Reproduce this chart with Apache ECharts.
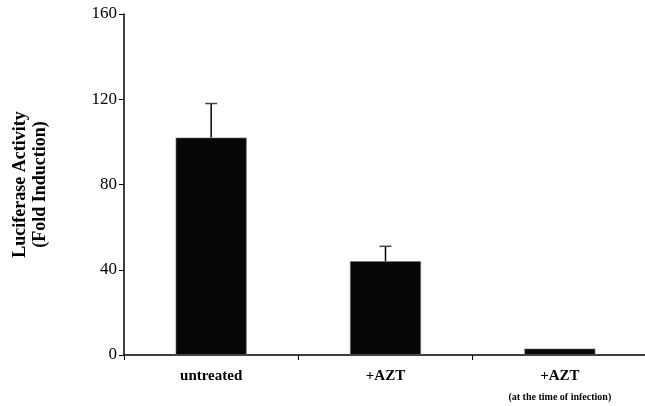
<!DOCTYPE html>
<html>
<head>
<meta charset="utf-8">
<script src="https://cdn.jsdelivr.net/npm/echarts@6/dist/echarts.min.js"></script>
<style>html,body{margin:0;padding:0;background:#fff;}#c{width:645px;height:406px;}</style>
</head>
<body>
<div id="c"></div>
<script>
const categories = ['untreated', '+AZT', '+AZT (at the time of infection)'];
const values = [102, 44, 3];
const errors = [16, 7, 0];
const yTicks = [0, 40, 80, 120, 160];
const yTitle = ['Luciferase Activity', '(Fold Induction)'];

const chart = echarts.init(document.getElementById('c'), null, {renderer: 'canvas'});
const serif = '"Liberation Serif", "Times New Roman", serif';

chart.setOption({
  animation: false,
  backgroundColor: '#fff',
  grid: {left: 124, top: 14, width: 523, height: 341, containLabel: false, outerBoundsMode: 'none'},
  xAxis: {
    type: 'category',
    data: categories,
    axisLine: {lineStyle: {color: '#000', width: 1.5}},
    axisTick: {show: true, length: 5, lineStyle: {color: '#000', width: 1}},
    axisLabel: {
      interval: 0,
      margin: 10,
      color: '#000',
      fontFamily: serif,
      fontWeight: 'bold',
      fontSize: 15,
      lineHeight: 20,
      formatter: function (v) {
        const m = v.match(/^(\S+)\s+(\(.*\))$/);
        if (m) return '{a|' + m[1] + '}\n{b|' + m[2] + '}';
        return '{a|' + v + '}';
      },
      rich: {
        a: {fontFamily: serif, fontWeight: 'bold', fontSize: 15, lineHeight: 22, color: '#000'},
        b: {fontFamily: serif, fontWeight: 'bold', fontSize: 10, lineHeight: 20, color: '#000'}
      }
    },
    splitLine: {show: false}
  },
  yAxis: {
    type: 'value',
    min: yTicks[0],
    max: yTicks[yTicks.length - 1],
    interval: yTicks[1] - yTicks[0],
    name: yTitle.join('\n'),
    nameLocation: 'middle',
    nameRotate: 90,
    nameGap: 74,
    nameTextStyle: {fontFamily: serif, fontWeight: 'bold', fontSize: 18, lineHeight: 20, color: '#000'},
    axisLine: {show: true, lineStyle: {color: '#000', width: 1.5}},
    axisTick: {show: true, length: 5, lineStyle: {color: '#000'}},
    axisLabel: {color: '#000', fontFamily: serif, fontSize: 17, margin: 7},
    splitLine: {show: false}
  },
  series: [
    {
      type: 'bar',
      data: values,
      barWidth: 71,
      itemStyle: {color: '#070707', borderColor: '#777', borderWidth: 0.6}
    },
    {
      type: 'custom',
      data: values.map((v, i) => [i, v, v + errors[i]]),
      z: 5,
      renderItem: function (params, api) {
        const x = api.value(0);
        const lo = api.coord([x, api.value(1)]);
        const hi = api.coord([x, api.value(2)]);
        if (api.value(2) <= api.value(1)) return null;
        return {
          type: 'group',
          children: [
            {type: 'line', shape: {x1: lo[0], y1: lo[1], x2: hi[0], y2: hi[1]}, style: {stroke: '#000', lineWidth: 1.5}},
            {type: 'line', shape: {x1: hi[0] - 6, y1: hi[1], x2: hi[0] + 6, y2: hi[1]}, style: {stroke: '#444', lineWidth: 1.5}}
          ]
        };
      }
    }
  ]
});
</script>
</body>
</html>
